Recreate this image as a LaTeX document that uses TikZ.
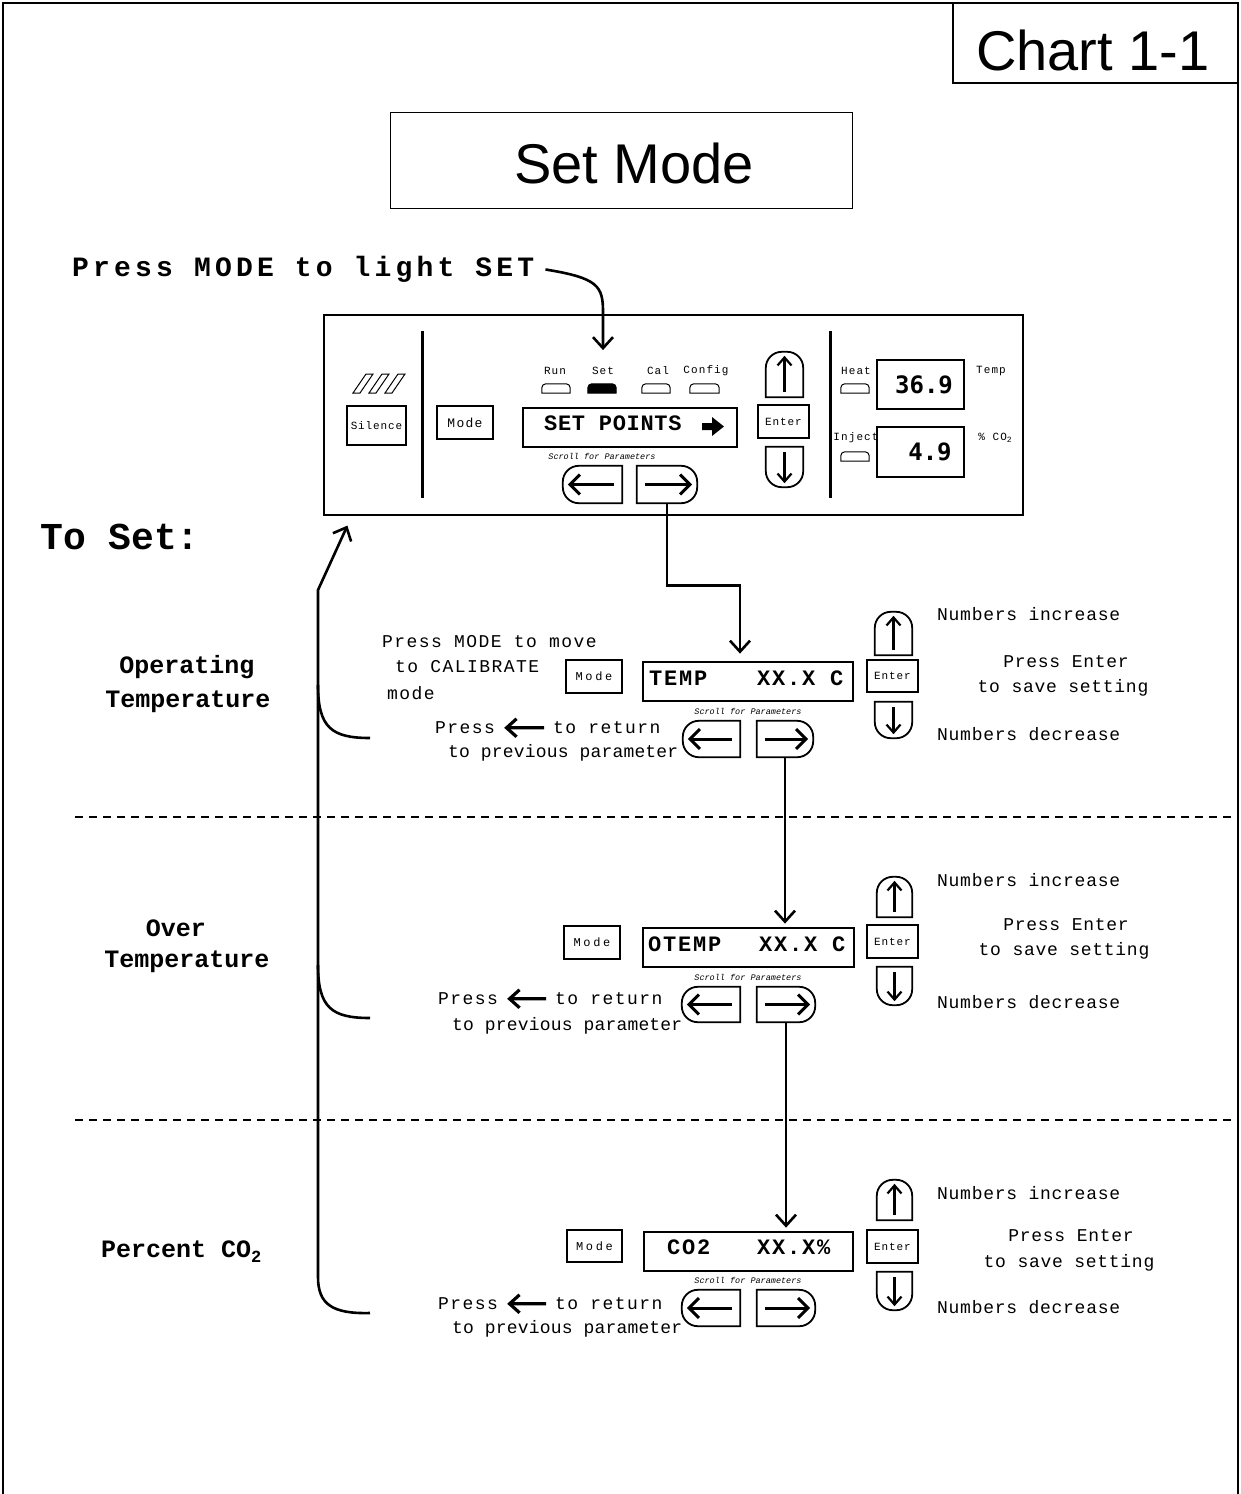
\documentclass[tikz,border=0pt]{standalone}
\usepackage{fontspec}
\setmainfont{Liberation Mono}
\newfontfamily\arial{Liberation Sans}
\newfontfamily\dvm{DejaVu Sans Mono}
\usetikzlibrary{arrows.meta,fit}
\newcommand\fs[1]{\fontsize{#1}{#1}\selectfont}
\newcommand\ls[1]{\addfontfeature{LetterSpace=#1}}
\newcommand\lbtn[1]{%
  \draw[bline] (#1.north east) -- ([xshift=16pt]#1.north west) arc[start angle=90,end angle=180,radius=16pt]
    -- ([yshift=16pt]#1.south west) arc[start angle=180,end angle=270,radius=16pt] -- (#1.south east) -- cycle;
  \draw[barr] ([xshift=-8pt]#1.east) -- ([xshift=5pt]#1.west);}
\newcommand\rbtn[1]{%
  \draw[bline] (#1.north west) -- ([xshift=-16pt]#1.north east) arc[start angle=90,end angle=0,radius=16pt]
    -- ([yshift=16pt]#1.south east) arc[start angle=0,end angle=-90,radius=16pt] -- (#1.south west) -- cycle;
  \draw[barr] ([xshift=8pt]#1.west) -- ([xshift=-5pt]#1.east);}
\newcommand\ubtn[1]{%
  \draw[bline] (#1.south west) -- ([yshift=-16pt]#1.north west) arc[start angle=180,end angle=90,radius=16pt]
    -- ([xshift=-16pt]#1.north east) arc[start angle=90,end angle=0,radius=16pt] -- (#1.south east) -- cycle;
  \draw[uarr] ([yshift=5pt]#1.south) -- ([yshift=-4pt]#1.north);}
\newcommand\dbtn[1]{%
  \draw[bline] (#1.north west) -- ([yshift=16pt]#1.south west) arc[start angle=180,end angle=270,radius=16pt]
    -- ([xshift=-16pt]#1.south east) arc[start angle=270,end angle=360,radius=16pt] -- (#1.north east) -- cycle;
  \draw[uarr] ([yshift=-5pt]#1.north) -- ([yshift=4pt]#1.south);}
\newcommand\ledp[2][]{%
  \draw[line width=1pt,#1] (#2.south west) -- ([yshift=-4pt]#2.north west) arc[start angle=180,end angle=90,radius=4pt]
    -- ([xshift=-4pt]#2.north east) arc[start angle=90,end angle=0,radius=4pt] -- (#2.south east) -- cycle;}
\begin{document}
\begin{tikzpicture}[x=1pt,y=-1pt,
  every node/.style={inner sep=0pt},
  shp/.style={inner sep=0pt,draw=none},
  box/.style={draw,line width=1.6pt,inner sep=0pt},
  disp/.style={draw,line width=2.8pt,inner sep=0pt},
  bline/.style={line width=1.8pt},
  barr/.style={line width=3pt,-{Straight Barb[length=10pt,width=20pt]}},
  uarr/.style={line width=2.2pt,-{Straight Barb[length=8pt,width=14pt]}},
  sarr/.style={line width=3.2pt,-{Straight Barb[length=10pt,width=18pt]}},
  conn/.style={line width=2.6pt,-{Straight Barb[length=11pt,width=20pt]}},
  brk/.style={line width=2.6pt},
  tiny/.style={font=\fs{11}\ls{10}},
  btxt/.style={font=\fs{11}\ls{8}},
  mtxt/.style={font=\fs{12}\ls{22}},
  rtxt/.style={font=\fs{18}\ls{8}},
  qtxt/.style={font=\fs{18}\ls{1}},
  ntxt/.style={font=\fs{18}\ls{4}},
  rowlbl/.style={font=\bfseries\fs{25}},
  dtxt/.style={font=\bfseries\fs{22}\ls{8}},
  scr/.style={font=\itshape\fs{8.5}},
  big/.style={font=\dvm\bfseries\fs{24}}
]
\useasboundingbox (0,0) rectangle (1241,1494);
\fill[white] (0,0) rectangle (1241,1494);
% outer frame
\draw[line width=2pt] (3,1494) -- (3,3) -- (1238,3) -- (1238,1494);
\node[draw,line width=1.8pt,fit={(953,3)(1238,83)}] (chart) {};
\node[font=\arial\fs{56}] (charttxt) at (1093,50) {Chart 1-1};
\node[draw,line width=1pt,fit={(390,112)(852,208)}] (title) {};
\node[font=\arial\fs{56}] (titletxt) at (634,163) {Set Mode};
\node[font=\bfseries\fs{28}\ls{15},anchor=mid west] (pressmode) at (72,274) {Press MODE to light SET};
\node[font=\bfseries\fs{38},anchor=mid west] (toset) at (40,547) {To Set:};
% ---------------- panel
\node[draw,line width=1.2pt,fit={(324,315)(1023,515)}] (panel) {};
\foreach \sx in {353,369,385}{\draw[line width=1pt] (\sx,393) -- (\sx+7,393) -- (\sx+20,374) -- (\sx+13,374) -- cycle;}
\node[box,fit={(347,406)(406,445)}] (sil) {};
\node[btxt] (siltxt) at (sil.center) {Silence};
\draw[line width=3pt] (422,331) -- (422,498);
\draw[line width=3pt] (830,331) -- (830,498);
\node[box,fit={(437,406)(493,439)}] (pmode) {};
\node[font=\fs{13}\ls{10}] (pmodetxt) at (pmode.center) {Mode};
\node[tiny] (lrun) at (555,371) {Run};
\node[tiny] (lset) at (603,371) {Set};
\node[tiny] (lcal) at (658,371) {Cal};
\node[tiny] (lcfg) at (706,371) {Config};
\node[shp,fit={(542,384)(570,393)}] (ledrun) {}; \ledp{ledrun}
\node[shp,fit={(588,384)(616,393)}] (ledset) {}; \ledp[fill=black]{ledset}
\node[shp,fit={(642,384)(670,393)}] (ledcal) {}; \ledp{ledcal}
\node[shp,fit={(690,384)(719,393)}] (ledcfg) {}; \ledp{ledcfg}
\node[disp,fit={(523,408)(737,447)}] (disp0) {};
\node[anchor=mid west,font=\bfseries\fs{22}\ls{3}] (disp0txt) at (544,428) {SET POINTS};
\fill (702,423) -- (712,423) -- (712,417) -- (724,426.5) -- (712,436) -- (712,430) -- (702,430) -- cycle;
\node[scr] (scr0) at (602,456) {Scroll for Parameters};
\node[shp,fit={(563,466)(622,503)}] (pl) {}; \lbtn{pl}
\node[shp,fit={(637,466)(697,503)}] (pr) {}; \rbtn{pr}
\node[shp,fit={(766,352)(803,397)}] (pu) {}; \ubtn{pu}
\node[box,fit={(758,405)(809,438)}] (pe) {};
\node[btxt] (petxt) at (pe.center) {Enter};
\node[shp,fit={(766,447)(803,487)}] (pd) {}; \dbtn{pd}
\node[tiny] (lheat) at (856,371) {Heat};
\node[shp,fit={(841,384)(869,393)}] (ledheat) {}; \ledp{ledheat}
\node[disp,fit={(877,360)(964,409)}] (dtemp) {};
\node[big] (dtemptxt) at (924,385) {36.9};
\node[tiny] (ltemp) at (991,371) {Temp};
\node[tiny] (linj) at (856,438) {Inject};
\node[shp,fit={(841,452)(869,461)}] (ledinj) {}; \ledp{ledinj}
\node[disp,fit={(877,427)(964,477)}] (dco2) {};
\node[big] (dco2txt) at (930,452) {4.9};
\node[tiny] (lco2) at (995,438) {\% CO\raisebox{-0.3ex}{\fs{8}2}};
% arrow from title text to Set LED
\draw[conn] ([xshift=11pt]pressmode.east) .. controls (598,278) and (603,286) .. (603,312) -- ([yshift=17pt]lset.north);
% ---------------- row 1
\node[rowlbl] (r1a) at (187,667) {Operating};
\node[rowlbl] (r1b) at (188,702) {Temperature};
\node[rtxt,anchor=mid west] (t1a) at (382,645) {Press MODE to move};
\node[rtxt,anchor=mid west] (t1b) at (395,670) {to CALIBRATE};
\node[rtxt,anchor=mid west] (t1c) at (387,697) {mode};
\node[box,fit={(566,660)(622,693)}] (m1) {};
\node[mtxt] (m1txt) at (m1.center) {Mode};
\node[disp,fit={(643,662)(853,701)}] (d1) {};
\node[dtxt,anchor=mid west] (d1a) at (649,683) {TEMP};
\node[dtxt,anchor=mid west] (d1b) at (757,683) {XX.X C};
\node[scr] (s1) at (748,711) {Scroll for Parameters};
\node[shp,fit={(683,721)(740,757)}] (l1) {}; \lbtn{l1}
\node[shp,fit={(757,721)(813,757)}] (r1) {}; \rbtn{r1}
\node[rtxt,anchor=mid west] (p1) at (435,731) {Press};
\node[rtxt,anchor=mid west] (ret1) at (553,731) {to return};
\draw[sarr] ([xshift=-9pt]ret1.west) -- ([xshift=9pt]p1.east);
\node[qtxt,anchor=mid west] (q1) at (448,755) {to previous parameter};
\node[shp,fit={(875,612)(912,655)}] (u1) {}; \ubtn{u1}
\node[box,fit={(867,660)(918,692)}] (e1) {};
\node[btxt] (e1txt) at (e1.center) {Enter};
\node[shp,fit={(875,702)(912,738)}] (dn1) {}; \dbtn{dn1}
\node[ntxt,anchor=mid west] (ni1) at (937,618) {Numbers increase};
\node[ntxt] (pe1) at (1066,662) {Press Enter};
\node[ntxt] (ts1) at (1063,688) {to save setting};
\node[ntxt,anchor=mid west] (nd1) at (937,738) {Numbers decrease};
\draw[conn] (pr.south) -- ++(0,82) -| ([xshift=-8pt,yshift=7pt]d1.north);
% dashed separators
\draw[line width=1.6pt,dash pattern=on 8pt off 6pt] (75,817) -- (1232,817);
\draw[line width=1.6pt,dash pattern=on 8pt off 6pt] (75,1120) -- (1232,1120);
% ---------------- row 2
\node[rowlbl] (r2a) at (176,928) {Over};
\node[rowlbl] (r2b) at (187,962) {Temperature};
\node[box,fit={(564,926)(620,959)}] (m2) {};
\node[mtxt] (m2txt) at (m2.center) {Mode};
\node[disp,fit={(643,928)(854,967)}] (d2) {};
\node[dtxt,anchor=mid west] (d2a) at (648,949) {OTEMP};
\node[dtxt,anchor=mid west] (d2b) at (759,949) {XX.X C};
\node[scr] (s2) at (748,977) {Scroll for Parameters};
\node[shp,fit={(682,987)(740,1022)}] (l2) {}; \lbtn{l2}
\node[shp,fit={(757,987)(815,1022)}] (r2) {}; \rbtn{r2}
\node[rtxt,anchor=mid west] (p2) at (438,1002) {Press};
\node[rtxt,anchor=mid west] (ret2) at (555,1002) {to return};
\draw[sarr] ([xshift=-9pt]ret2.west) -- ([xshift=9pt]p2.east);
\node[qtxt,anchor=mid west] (q2) at (452,1028) {to previous parameter};
\node[shp,fit={(877,877)(912,917)}] (u2) {}; \ubtn{u2}
\node[box,fit={(867,925)(918,958)}] (e2) {};
\node[btxt] (e2txt) at (e2.center) {Enter};
\node[shp,fit={(877,967)(912,1005)}] (dn2) {}; \dbtn{dn2}
\node[ntxt,anchor=mid west] (ni2) at (937,884) {Numbers increase};
\node[ntxt] (pe2) at (1066,925) {Press Enter};
\node[ntxt] (ts2) at (1064,951) {to save setting};
\node[ntxt,anchor=mid west] (nd2) at (937,1006) {Numbers decrease};
\draw[conn] (r1.south) -- ([yshift=3pt]r1.south |- d2.north);
% ---------------- row 3
\node[rowlbl,anchor=mid west] (r3a) at (101,1255) {Percent CO\raisebox{-0.35ex}{\fs{17}2}};
\node[box,fit={(567,1230)(622,1262)}] (m3) {};
\node[mtxt] (m3txt) at (m3.center) {Mode};
\node[disp,fit={(644,1232)(853,1271)}] (d3) {};
\node[dtxt,anchor=mid west] (d3a) at (667,1252) {CO2};
\node[dtxt,anchor=mid west] (d3b) at (757,1252) {XX.X\%};
\node[scr] (s3) at (748,1280) {Scroll for Parameters};
\node[shp,fit={(682,1290)(740,1326)}] (l3) {}; \lbtn{l3}
\node[shp,fit={(757,1290)(815,1326)}] (r3) {}; \rbtn{r3}
\node[rtxt,anchor=mid west] (p3) at (438,1307) {Press};
\node[rtxt,anchor=mid west] (ret3) at (555,1307) {to return};
\draw[sarr] ([xshift=-9pt]ret3.west) -- ([xshift=9pt]p3.east);
\node[qtxt,anchor=mid west] (q3) at (452,1331) {to previous parameter};
\node[shp,fit={(877,1180)(912,1220)}] (u3) {}; \ubtn{u3}
\node[box,fit={(867,1230)(918,1263)}] (e3) {};
\node[btxt] (e3txt) at (e3.center) {Enter};
\node[shp,fit={(877,1272)(912,1310)}] (dn3) {}; \dbtn{dn3}
\node[ntxt,anchor=mid west] (ni3) at (937,1197) {Numbers increase};
\node[ntxt] (pe3) at (1071,1236) {Press Enter};
\node[ntxt] (ts3) at (1069,1263) {to save setting};
\node[ntxt,anchor=mid west] (nd3) at (937,1311) {Numbers decrease};
\draw[conn] (r2.south) -- ([yshift=3pt]r2.south |- d3.north);
% ---------------- left bracket
\coordinate (b1) at (370,738);
\coordinate (b2) at (370,1018);
\coordinate (b3) at (370,1313);
\coordinate (btop) at (318,590);
\draw[conn] (b3) .. controls (332,1314) and (318,1304) .. (318,1277) -- (btop) -- ([xshift=24pt,yshift=-10pt]panel.south west);
\draw[brk] (318,685) .. controls (318,728) and (332,738) .. (b1);
\draw[brk] (318,965) .. controls (318,1008) and (332,1018) .. (b2);
\end{tikzpicture}
\end{document}
